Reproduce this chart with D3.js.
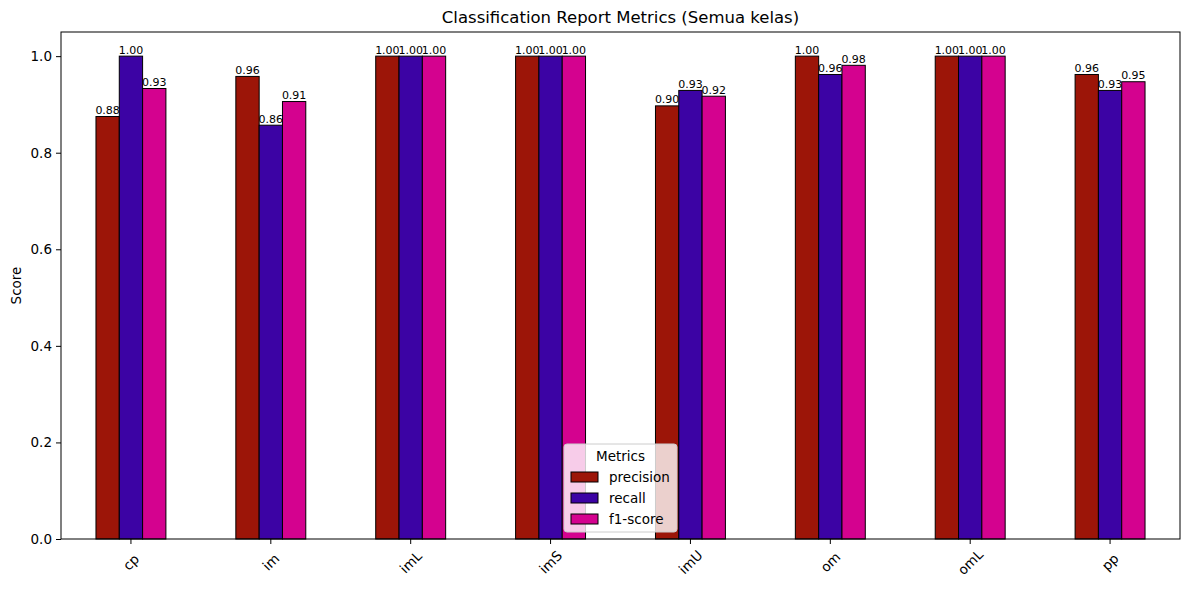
<!DOCTYPE html>
<html>
<head>
<meta charset="utf-8">
<script src="https://cdn.jsdelivr.net/npm/d3@7"></script>
<style>
  body { margin: 0; background: #fff; }
  text { font-family: "DejaVu Sans", sans-serif; }
</style>
</head>
<body>
<svg class="chart"></svg>
<script>
// data
const categories = ['cp', 'im', 'imL', 'imS', 'imU', 'om', 'omL', 'pp'];
const metrics = ['precision', 'recall', 'f1-score'];
const precision = [0.875, 0.958, 1.0, 1.0, 0.897, 1.0, 1.0, 0.962];
const recall = [1.0, 0.857, 1.0, 1.0, 0.929, 0.962, 1.0, 0.929];
const f1score = [0.933, 0.906, 1.0, 1.0, 0.917, 0.981, 1.0, 0.947];
const yTicks = [0, 0.2, 0.4, 0.6, 0.8, 1.0];
const colors = ['#9c1508', '#3c03a4', '#d4028f'];

const series = [precision, recall, f1score];

const width = 1189, height = 590;
const svg = d3.select('.chart').attr('width', width).attr('height', height);

const mLeft = 61, mRight = 1180, mTop = 32, mBottom = 539;

const x = d3.scaleBand().domain(categories).range([mLeft, mRight]).paddingInner(0.5).paddingOuter(0.25);
const xSub = d3.scaleBand().domain(metrics).range([0, x.bandwidth()]);
const y = d3.scaleLinear().domain([0, 1.05]).range([mBottom, mTop]);

// bars
metrics.forEach((m, i) => {
  const g = svg.append('g');
  g.selectAll('rect').data(series[i]).join('rect')
    .attr('x', (d, j) => x(categories[j]) + xSub(m))
    .attr('y', d => y(d))
    .attr('width', xSub.bandwidth())
    .attr('height', d => y(0) - y(d))
    .attr('fill', colors[i])
    .attr('stroke', '#000')
    .attr('stroke-width', 1);
  g.selectAll('text').data(series[i]).join('text')
    .attr('x', (d, j) => x(categories[j]) + xSub(m) + xSub.bandwidth() / 2)
    .attr('y', d => y(d) - 2.5)
    .attr('text-anchor', 'middle')
    .attr('font-size', 11)
    .text(d => d.toFixed(2));
});

// axes
const yAxis = d3.axisLeft(y).tickValues(yTicks).tickFormat(d3.format('.1f')).tickSize(5).tickPadding(4);
const gy = svg.append('g').attr('transform', `translate(${mLeft},0)`).call(yAxis);
gy.select('.domain').remove();
gy.selectAll('text').attr('font-size', 13.5).attr('fill', '#000').style('font-family', '"DejaVu Sans", sans-serif');

const xAxis = d3.axisBottom(x).tickSize(5).tickPadding(0);
const gx = svg.append('g').attr('transform', `translate(0,${mBottom})`).call(xAxis);
gx.select('.domain').remove();
gx.selectAll('text').remove();
categories.forEach(c => {
  svg.append('text')
    .attr('transform', `translate(${x(c) + x.bandwidth() / 2},${mBottom + 23}) rotate(-45)`)
    .attr('text-anchor', 'middle')
    .attr('dominant-baseline', 'central')
    .attr('font-size', 13.5)
    .text(c);
});

// frame
svg.append('rect')
  .attr('x', mLeft).attr('y', mTop)
  .attr('width', mRight - mLeft).attr('height', mBottom - mTop)
  .attr('fill', 'none').attr('stroke', '#000').attr('stroke-width', 1);

// title and label
svg.append('text').attr('x', (mLeft + mRight) / 2).attr('y', 23)
  .attr('text-anchor', 'middle').attr('font-size', 16.5)
  .text('Classification Report Metrics (Semua kelas)');
svg.append('text').attr('transform', `translate(21,${(mTop + mBottom) / 2}) rotate(-90)`)
  .attr('text-anchor', 'middle').attr('font-size', 13.5)
  .text('Score');

// legend
const lg = svg.append('g').attr('transform', 'translate(564,444)');
lg.append('rect').attr('width', 113).attr('height', 88).attr('rx', 3)
  .attr('fill', '#fff').attr('fill-opacity', 0.8).attr('stroke', '#ccc');
lg.append('text').attr('x', 56.5).attr('y', 17).attr('text-anchor', 'middle')
  .attr('font-size', 13.5).text('Metrics');
metrics.forEach((m, i) => {
  const yy = 33 + i * 21;
  lg.append('rect').attr('x', 7).attr('y', yy - 5).attr('width', 27).attr('height', 10)
    .attr('fill', colors[i]).attr('stroke', '#000');
  lg.append('text').attr('x', 45).attr('y', yy + 5).attr('font-size', 13.5).text(m);
});
</script>
</body>
</html>
